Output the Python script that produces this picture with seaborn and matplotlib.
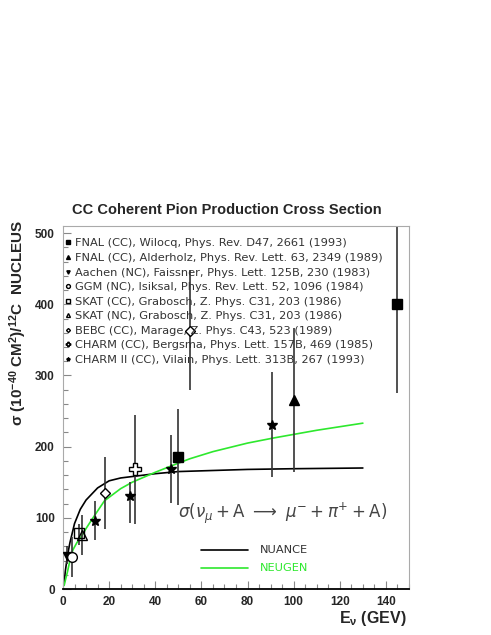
import matplotlib
matplotlib.use("Agg")
import matplotlib.pyplot as plt
import seaborn as sns
import pandas as pd
from matplotlib.ticker import MultipleLocator

# data
# model curves
nuance_x = [0.5, 1, 2, 3, 5, 7.5, 10, 15, 20, 25, 30, 40, 50, 60, 80, 100, 130]
nuance_y = [8, 25, 48, 65, 92, 112, 125, 142, 152, 156, 158, 162, 165, 166, 168, 169, 170]
neugen_x = [0.5, 1, 2, 3, 4.3, 6, 8, 10, 13, 18, 25, 30, 35, 40, 47, 55, 65, 80, 91, 110, 130]
neugen_y = [5, 12, 25, 40, 55, 65, 74, 85, 100, 124, 141, 150, 157, 164, 173, 183, 193, 205, 212, 223, 233]

# measurements: x, y, lower end, upper end of error bar
fnal_w_x = [50, 145]
fnal_w_y = [185, 400]
fnal_w_lo = [118, 275]
fnal_w_hi = [253, 560]

fnal_a_x = [100]
fnal_a_y = [265]
fnal_a_lo = [164]
fnal_a_hi = [366]

aachen_x = [1.8]
aachen_y = [47]
aachen_lo = [35]
aachen_hi = [60]

ggm_x = [3.7]
ggm_y = [45]
ggm_lo = [17]
ggm_hi = [73]

skat_cc_x = [6.8]
skat_cc_y = [78]
skat_cc_lo = [62]
skat_cc_hi = [92]

skat_nc_x = [8.2]
skat_nc_y = [76]
skat_nc_lo = [48]
skat_nc_hi = [104]

bebc_x = [18, 55]
bebc_y = [135, 362]
bebc_lo = [84, 279]
bebc_hi = [185, 448]

charm_x = [31]
charm_y = [168]
charm_lo = [92]
charm_hi = [244]

charm2_x = [14, 29, 47, 90.5]
charm2_y = [96, 131, 168, 231]
charm2_lo = [69, 93, 121, 157]
charm2_hi = [124, 151, 216, 305]

labels = [
    "FNAL (CC), Wilocq, Phys. Rev. D47, 2661 (1993)",
    "FNAL (CC), Alderholz, Phys. Rev. Lett. 63, 2349 (1989)",
    "Aachen (NC), Faissner, Phys. Lett. 125B, 230 (1983)",
    "GGM (NC), Isiksal, Phys. Rev. Lett. 52, 1096 (1984)",
    "SKAT (CC), Grabosch, Z. Phys. C31, 203 (1986)",
    "SKAT (NC), Grabosch, Z. Phys. C31, 203 (1986)",
    "BEBC (CC), Marage, Z. Phys. C43, 523 (1989)",
    "CHARM (CC), Bergsma, Phys. Lett. 157B, 469 (1985)",
    "CHARM II (CC), Vilain, Phys. Lett. 313B, 267 (1993)",
]

sns.set_theme(style="ticks")
plt.rcParams['font.family'] = ['Liberation Sans', 'DejaVu Sans']
plt.rcParams['mathtext.fontset'] = 'custom'
plt.rcParams['mathtext.rm'] = 'Liberation Sans:bold'
plt.rcParams['mathtext.bf'] = 'Liberation Sans:bold'
plt.rcParams['mathtext.it'] = 'Liberation Sans:bold'

fig = plt.figure(figsize=(4.91, 6.35), dpi=100)
ax = fig.add_axes([63/491, 46/635, 346/491, 363/635])

# curves
nuance_df = pd.DataFrame({'E': nuance_x, 'sigma': nuance_y})
neugen_df = pd.DataFrame({'E': neugen_x, 'sigma': neugen_y})
sns.lineplot(data=nuance_df, x='E', y='sigma', ax=ax, color='black', lw=1.2)
sns.lineplot(data=neugen_df, x='E', y='sigma', ax=ax, color='#2ee82e', lw=1.2)

series = [
    (fnal_w_x, fnal_w_y, fnal_w_lo, fnal_w_hi, dict(marker='s', ms=7, mfc='black', mec='black')),
    (fnal_a_x, fnal_a_y, fnal_a_lo, fnal_a_hi, dict(marker='^', ms=7, mfc='black', mec='black')),
    (aachen_x, aachen_y, aachen_lo, aachen_hi, dict(marker='v', ms=6, mfc='black', mec='black')),
    (ggm_x, ggm_y, ggm_lo, ggm_hi, dict(marker='o', ms=7, mfc='white', mec='black', mew=1.0)),
    (skat_cc_x, skat_cc_y, skat_cc_lo, skat_cc_hi, dict(marker='s', ms=7, mfc='none', mec='black', mew=1.0)),
    (skat_nc_x, skat_nc_y, skat_nc_lo, skat_nc_hi, dict(marker='^', ms=7, mfc='none', mec='black', mew=1.0)),
    (bebc_x, bebc_y, bebc_lo, bebc_hi, dict(marker='D', ms=5, mfc='white', mec='black', mew=1.0)),
    (charm_x, charm_y, charm_lo, charm_hi, dict(marker='P', ms=8, mfc='white', mec='black', mew=1.0)),
    (charm2_x, charm2_y, charm2_lo, charm2_hi, dict(marker='*', ms=7, mfc='black', mec='black')),
]

handles = []
for xs, ys, lo, hi, style in series:
    yerr = [[y - l for y, l in zip(ys, lo)], [h - y for y, h in zip(ys, hi)]]
    ax.errorbar(xs, ys, yerr=yerr, fmt='none', ecolor='#333333', elinewidth=1.2, capsize=0, zorder=2)
    ln, = ax.plot(xs, ys, ls='none', zorder=3, **style)
    handles.append(ln)

leg = ax.legend(handles, labels, loc='upper left', bbox_to_anchor=(0.0, 0.972),
                frameon=False, markerscale=0.4, handlelength=0.5, handletextpad=0.35,
                labelspacing=0.4, borderaxespad=0, borderpad=0.2,
                prop={'family': 'DejaVu Sans', 'size': 8.2})
for t in leg.get_texts():
    t.set_color('#333333')

# reaction formula and model key
ax.text(50, 107, r'$\sigma(\nu_{\mu} + \mathrm{A}\ \longrightarrow\ \mu^{-} + \pi^{+} + \mathrm{A})$',
        fontsize=12, color='#444444', va='center', ha='left', math_fontfamily='dejavusans')
ax.plot([60, 80], [55, 55], color='black', lw=1.2)
ax.plot([60, 80], [30, 30], color='#2ee82e', lw=1.2)
ax.text(85.5, 55, 'NUANCE', fontsize=8.2, family='DejaVu Sans', color='#333333', va='center')
ax.text(85.5, 30, 'NEUGEN', fontsize=8.2, family='DejaVu Sans', color='#2ee82e', va='center')

ax.set_xlim(0, 150)
ax.set_ylim(0, 510)
ax.xaxis.set_major_locator(MultipleLocator(20))
ax.xaxis.set_minor_locator(MultipleLocator(5))
ax.yaxis.set_major_locator(MultipleLocator(100))
ax.yaxis.set_minor_locator(MultipleLocator(20))
ax.tick_params(which='both', direction='in', color='#888888', width=0.8)
ax.tick_params(which='major', length=6)
ax.tick_params(which='minor', length=3.5)
ax.tick_params(axis='x', pad=5, labelsize=8.5)
ax.tick_params(axis='y', pad=6, labelsize=8.5)
for lab in ax.get_xticklabels() + ax.get_yticklabels():
    lab.set_fontweight('bold')

for s in ['top', 'right', 'left']:
    ax.spines[s].set_color('#aaaaaa')
    ax.spines[s].set_linewidth(0.8)
ax.spines['bottom'].set_color('black')
ax.spines['bottom'].set_linewidth(1.3)

ax.set_xlabel('')
ax.set_ylabel('')
fig.text(407/491, 1 - 618/635, r'E$_{\nu}$ (GEV)', fontsize=11.5, fontweight='bold',
         ha='right', va='center')
fig.text(18/491, 1 - 220/635, r'$\sigma$ (10$^{-40}$ CM$^{2}$)/$^{12}$C  NUCLEUS',
         fontsize=11, fontweight='bold', rotation=90, ha='center', va='top')
fig.text(227/491, 1 - 210/635, 'CC Coherent Pion Production Cross Section',
         fontsize=10.5, fontweight='bold', ha='center', va='center')

fig.savefig('out.png', dpi=100)
